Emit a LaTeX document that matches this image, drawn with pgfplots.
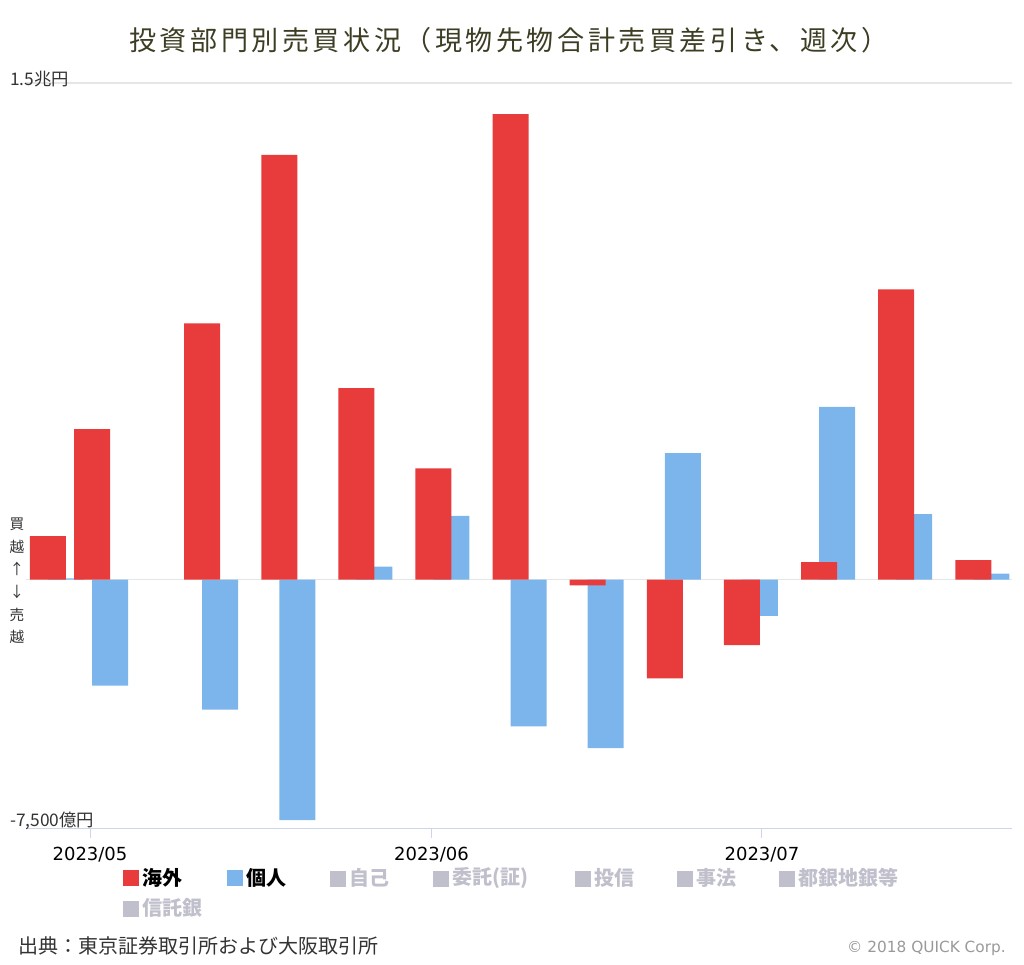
\documentclass[border=0pt]{standalone}
\usepackage{pgfplots}
\pgfplotsset{compat=1.18}
\usepackage{pgfplotstable}
\usepackage{fontspec}
\setmainfont{Noto Sans CJK JP}
\newfontfamily\titlefont[LetterSpace=13]{Noto Sans CJK JP}
\newfontfamily\latinfont{DejaVu Sans}
\definecolor{kred}{HTML}{E83C3C}
\definecolor{kblue}{HTML}{7CB5EC}
\definecolor{axisblue}{HTML}{CCD6EB}
\definecolor{gridgray}{HTML}{E6E6E6}
\definecolor{titlecol}{HTML}{3D3D24}
\definecolor{labelgray}{HTML}{333333}
\definecolor{inactive}{HTML}{C0C0CC}
\definecolor{copygray}{HTML}{999999}

% x = days since 2023/05/01 (week-ending dates)
\pgfplotstableread{
x y
-3 1316
1 4548
11 7741
18 12831
25 5783
32 3364
39 14057
46 -171
53 -2982
60 -1979
67 533
74 8765
81 593
}\kaigai

\pgfplotstableread{
x y
-3 40
1 -3202
11 -3925
18 -7259
25 392
32 1928
39 -4428
46 -5090
53 3825
60 -1094
67 5220
74 1979
81 181
}\kojin

\begin{document}
\begin{tikzpicture}
\useasboundingbox (0,0) rectangle (768pt,-723pt);
\begin{axis}[
  at={(19.5pt,-621pt)}, anchor=south west,
  scale only axis, width=739.5pt, height=558.75pt,
  xmin=-5.81, xmax=83.70, ymin=-7500, ymax=15000,
  axis x line*=bottom, axis y line*=left,
  y axis line style={draw=none},
  x axis line style={draw=axisblue, line width=0.75pt, -},
  xtick={0,31,61}, xticklabels={,,},
  xtick style={draw=axisblue, line width=0.75pt},
  tick align=outside, major tick length=7.5pt,
  ytick={0,15000}, yticklabels={,}, ytick style={draw=none},
  scaled y ticks=false, scaled x ticks=false,
  ymajorgrids, grid style={draw=gridgray, line width=0.9pt},
  clip=false,
]
\addplot[ybar, bar width=27pt, bar shift=6.75pt, fill=kblue, draw=none] table[x=x,y=y]{\kojin};
\addplot[ybar, bar width=27pt, bar shift=-6.75pt, fill=kred, draw=none] table[x=x,y=y]{\kaigai};
\end{axis}
\begin{scope}[x=0.75pt,y=-0.75pt]
\node[font=\titlefont\fontsize{20.3}{24}\selectfont, text=titlecol] at (509,40) {投資部門別売買状況（現物先物合計売買差引き、週次）};
\node[anchor=west, inner sep=0, font=\fontsize{13}{15}\selectfont, text=labelgray] at (10,79) {1.5兆円};
\node[anchor=west, inner sep=0, font=\fontsize{13}{15}\selectfont, text=labelgray] at (10,821) {-7,500億円};
\node[inner sep=0, align=center, font=\fontsize{11}{17}\selectfont, text=labelgray] at (17,581) {買\\越\\↑\\↓\\売\\越};
\node[font=\latinfont\fontsize{13.5}{16}\selectfont, text=black] at (90,855) {2023/05};
\node[font=\latinfont\fontsize{13.5}{16}\selectfont, text=black] at (431.5,855) {2023/06};
\node[font=\latinfont\fontsize{13.5}{16}\selectfont, text=black] at (762,855) {2023/07};
% legend
\fill[kred] (123,870) rectangle (139,886);
\node[anchor=west, inner sep=0, font=\bfseries\fontsize{15}{18}\selectfont, text=black] at (142,878) {海外};
\fill[kblue] (227,870) rectangle (243,886);
\node[anchor=west, inner sep=0, font=\bfseries\fontsize{15}{18}\selectfont, text=black] at (246,878) {個人};
\fill[inactive] (330,871) rectangle (346,887);
\node[anchor=west, inner sep=0, font=\bfseries\fontsize{15}{18}\selectfont, text=inactive] at (349,878) {自己};
\fill[inactive] (433,871) rectangle (449,887);
\node[anchor=west, inner sep=0, font=\bfseries\fontsize{15}{18}\selectfont, text=inactive] at (452,878) {委託(証)};
\fill[inactive] (575,871) rectangle (591,887);
\node[anchor=west, inner sep=0, font=\bfseries\fontsize{15}{18}\selectfont, text=inactive] at (594,878) {投信};
\fill[inactive] (677,871) rectangle (693,887);
\node[anchor=west, inner sep=0, font=\bfseries\fontsize{15}{18}\selectfont, text=inactive] at (696,878) {事法};
\fill[inactive] (779,871) rectangle (795,887);
\node[anchor=west, inner sep=0, font=\bfseries\fontsize{15}{18}\selectfont, text=inactive] at (798,878) {都銀地銀等};
\fill[inactive] (123,901) rectangle (139,917);
\node[anchor=west, inner sep=0, font=\bfseries\fontsize{15}{18}\selectfont, text=inactive] at (142,908) {信託銀};
% footer
\node[anchor=west, inner sep=0, font=\fontsize{15}{18}\selectfont, text=labelgray] at (18,946) {出典：東京証券取引所および大阪取引所};
\node[anchor=east, inner sep=0, font=\latinfont\fontsize{11.5}{13}\selectfont, text=copygray] at (1006,948) {© 2018 QUICK Corp.};
\end{scope}
\end{tikzpicture}
\end{document}
